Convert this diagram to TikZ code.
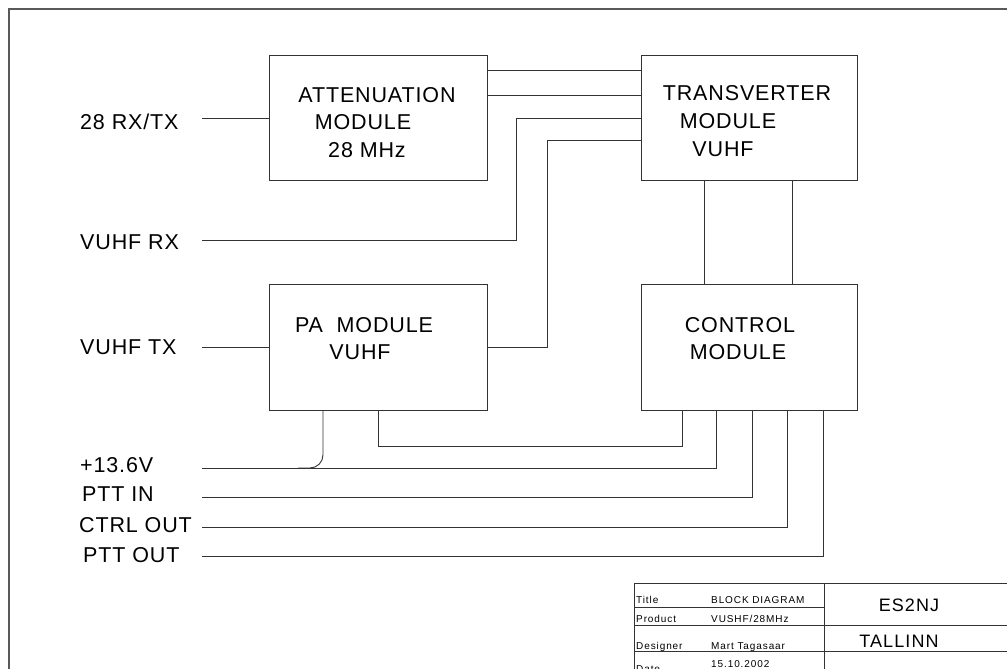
\documentclass[tikz,border=0pt]{standalone}
\usepackage{fontspec}
\setmainfont{Liberation Sans}
\newfontfamily\cadfont[LetterSpace=4]{Liberation Sans}
\newfontfamily\cadsmall[LetterSpace=9]{Liberation Sans}
\newfontfamily\cadmid[LetterSpace=6]{Liberation Sans}
\begin{document}
\begin{tikzpicture}[x=1pt,y=-1pt,
  wire/.style={draw=black!80,line width=0.9pt},
  blk/.style={draw=black!80,line width=0.9pt,minimum width=#1,minimum height=125.5pt,inner sep=0pt},
  big/.style={font=\cadfont\fontsize{21.5}{24}\selectfont,inner sep=0pt},
  lab/.style={big,anchor=west},
  small/.style={font=\cadsmall\fontsize{10}{12}\selectfont,inner sep=0pt,anchor=base west},
  mid/.style={font=\cadmid\fontsize{18}{20}\selectfont,inner sep=0pt}]
\useasboundingbox (0,0) rectangle (1007,669);
% frame
\draw[line width=2pt,black!65] (9,669) -- (9,9) -- (1007,9);
% blocks
\node[blk=218pt] (att) at (378,118) {};
\node[blk=216pt] (trv) at (749,118) {};
\node[blk=218pt] (pa) at (378,347.5) {};
\node[blk=216pt] (ctl) at (749,347.5) {};
% block texts
\node[big] (att1) at (377,95) {ATTENUATION};
\node[big] (att2) at (363,122) {MODULE};
\node[big] (att3) at (367,150) {28 MHz};
\node[big] (trv1) at (747,93) {TRANSVERTER};
\node[big] (trv2) at (728,121) {MODULE};
\node[big] (trv3) at (723,149) {VUHF};
\node[big] (pa1) at (364,325) {PA\ \ MODULE};
\node[big] (pa2) at (360,352) {VUHF};
\node[big] (ctl1) at (740,325) {CONTROL};
\node[big] (ctl2) at (738,352) {MODULE};
% side labels
\node[lab] (l28) at (80,122) {28 RX/TX};
\node[lab] (lrx) at (80,242) {VUHF RX};
\node[lab] (ltx) at (80,347) {VUHF TX};
\node[lab] (lpw) at (80,465) {+13.6V};
\node[lab] (lpi) at (82,494) {PTT IN};
\node[lab] (lco) at (79,525) {CTRL OUT};
\node[lab] (lpo) at (83,555) {PTT OUT};
% wire ends
\coordinate (a28) at (202,118);
\coordinate (arx) at (202,240);
\coordinate (atx) at (202,347.5);
\coordinate (apw) at (202,468);
\coordinate (api) at (202,497);
\coordinate (aco) at (202,527);
\coordinate (apo) at (202,556);
% wires
\draw[wire] (a28) -- (att.west);
\draw[wire] (att.east |- 0,70) -- (trv.west |- 0,70);
\draw[wire] (att.east |- 0,95) -- (trv.west |- 0,95);
\draw[wire] (arx) -| (516,118) -- (trv.west |- 0,118);
\draw[wire] (pa.east) -| (547,140) -- (trv.west |- 0,140);
\draw[wire] (trv.south -| 704,0) -- (ctl.north -| 704,0);
\draw[wire] (trv.south -| 792,0) -- (ctl.north -| 792,0);
\draw[wire] (atx) -- (pa.west);
\draw[wire] (pa.south -| 378,0) -- (378,446) -| (ctl.south -| 682,0);
\draw[wire,rounded corners=13pt] (pa.south -| 323,0) -- (323,468) -- (298,468);
\draw[wire] (apw) -| (ctl.south -| 716,0);
\draw[wire] (api) -| (ctl.south -| 752,0);
\draw[wire] (aco) -| (ctl.south -| 787,0);
\draw[wire] (apo) -| (ctl.south -| 823,0);
% title block
\draw[wire] (634,669) -- (634,583) -- (1007,583);
\draw[wire] (824,583) -- (824,669);
\draw[wire] (634,607) -- (824,607);
\draw[wire] (634,625) -- (1007,625);
\draw[wire] (634,651) -- (1007,651);
\node[small] (tb1) at (636,603) {Title};
\node[small] (tb2) at (711,603) {BLOCK DIAGRAM};
\node[small] (tb3) at (636,622) {Product};
\node[small] (tb4) at (711,622) {VUSHF/28MHz};
\node[small] (tb5) at (636,649) {Designer};
\node[small] (tb6) at (711,649) {Mart Tagasaar};
\node[small] (tb7) at (636,672) {Date};
\node[small] (tb8) at (711,667) {15.10.2002};
\node[mid] (es) at (909,605) {ES2NJ};
\node[mid] (tal) at (899,641) {TALLINN};
\end{tikzpicture}
\end{document}
